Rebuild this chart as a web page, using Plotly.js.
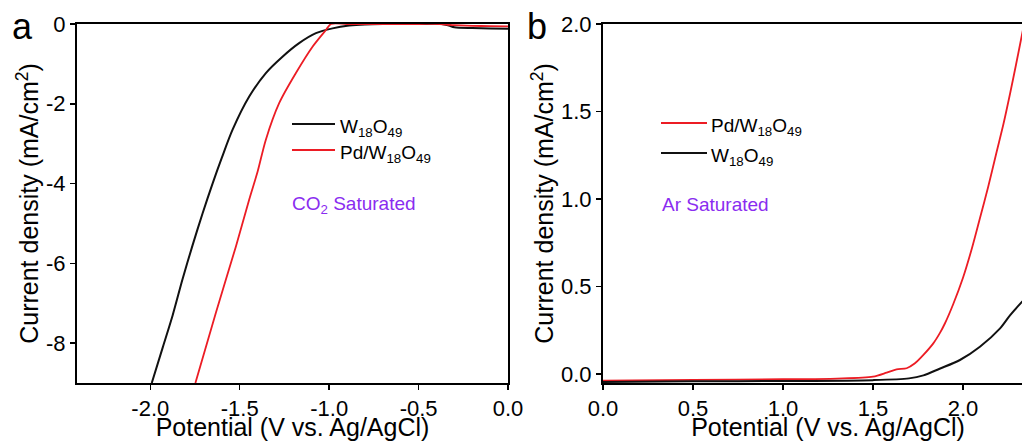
<!DOCTYPE html>
<html>
<head>
<meta charset="utf-8">
<script src="https://cdn.plot.ly/plotly-3.0.1.min.js"></script>
<style>
html,body{margin:0;padding:0;overflow:hidden;background:#fff;width:1022px;height:441px}
</style>
</head>
<body>
<div id="chart" style="width:1060px;height:441px"></div>
<script>
// ---------- Data ----------
// Panel a: CO2 saturated
const co2PotentialW = [-1.992, -1.93, -1.875, -1.82, -1.764, -1.708, -1.652, -1.6, -1.54, -1.447, -1.354, -1.261, -1.168, -1.074, -0.981, -0.888, -0.8, -0.7, -0.5, -0.37, -0.33, -0.30, -0.2, -0.1, 0.0];
const co2CurrentW   = [-9.0, -8.1, -7.3, -6.4, -5.55, -4.75, -4.0, -3.35, -2.65, -1.82, -1.23, -0.82, -0.48, -0.23, -0.11, -0.04, -0.01, 0.0, 0.0, 0.0, -0.04, -0.08, -0.1, -0.11, -0.12];
const co2PotentialPd = [-1.748, -1.633, -1.521, -1.447, -1.40, -1.354, -1.279, -1.186, -1.093, -1.018, -0.99, -0.9, -0.7, -0.5, -0.38, -0.33, -0.30, -0.2, -0.1, 0.0];
const co2CurrentPd   = [-9.0, -7.23, -5.57, -4.4, -3.7, -2.9, -1.98, -1.23, -0.57, -0.15, 0.0, 0.0, 0.0, 0.0, 0.0, -0.02, -0.03, -0.045, -0.055, -0.06];

// Panel b: Ar saturated
const arPotentialPd = [0.0, 0.5, 1.0, 1.3, 1.5, 1.576, 1.631, 1.687, 1.733, 1.78, 1.835, 1.872, 1.9, 1.946, 2.0, 2.05, 2.094, 2.14, 2.187, 2.225, 2.261, 2.295, 2.326, 2.345];
const arCurrentPd   = [-0.038, -0.033, -0.03, -0.026, -0.015, 0.008, 0.027, 0.033, 0.061, 0.109, 0.175, 0.235, 0.29, 0.40, 0.55, 0.72, 0.89, 1.07, 1.27, 1.43, 1.6, 1.77, 1.93, 2.03];
const arPotentialW = [0.0, 0.5, 1.0, 1.5, 1.70, 1.78, 1.87, 1.983, 2.094, 2.206, 2.261, 2.326, 2.345];
const arCurrentW   = [-0.045, -0.042, -0.04, -0.035, -0.025, -0.008, 0.03, 0.08, 0.156, 0.261, 0.335, 0.41, 0.43];

// Tick labels
const aXTickVals = [-2.0, -1.5, -1.0, -0.5, 0.0];
const aXTickText = ["-2.0", "-1.5", "-1.0", "-0.5", "0.0"];
const aYTickVals = [0, -2, -4, -6, -8];
const aYTickText = ["0", "-2", "-4", "-6", "-8"];
const bXTickVals = [0.0, 0.5, 1.0, 1.5, 2.0];
const bXTickText = ["0.0", "0.5", "1.0", "1.5", "2.0"];
const bYTickVals = [0.0, 0.5, 1.0, 1.5, 2.0];
const bYTickText = ["0.0", "0.5", "1.0", "1.5", "2.0"];

const nameW = "W<sub>18</sub>O<sub>49</sub>";
const namePd = "Pd/W<sub>18</sub>O<sub>49</sub>";
const panelLabels = ["a", "b"];
const conditionLabels = ["CO<sub>2</sub> Saturated", "Ar Saturated"];
const xTitle = "Potential (V vs. Ag/AgCl)";
const yTitle = "Current density (mA/cm<sup>2</sup>)";

// ---------- Layout helpers ----------
const W = 1060, H = 441;
const px = x => x / W;
const py = y => 1 - y / H;
const FONT = "Liberation Sans, Arial, Helvetica, sans-serif";
const RED = "#ec1c24", BLACK = "#111111", PURPLE = "#8a2cf0";

const traces = [
  {x: co2PotentialW, y: co2CurrentW, xaxis: "x", yaxis: "y", mode: "lines", name: nameW,
   line: {color: BLACK, width: 2, shape: "spline", smoothing: 0.8}, showlegend: false},
  {x: co2PotentialPd, y: co2CurrentPd, xaxis: "x", yaxis: "y", mode: "lines", name: namePd,
   line: {color: RED, width: 1.8, shape: "spline", smoothing: 0.8}, showlegend: false},
  {x: arPotentialPd, y: arCurrentPd, xaxis: "x2", yaxis: "y2", mode: "lines", name: namePd,
   line: {color: RED, width: 1.8, shape: "spline", smoothing: 0.8}, showlegend: false},
  {x: arPotentialW, y: arCurrentW, xaxis: "x2", yaxis: "y2", mode: "lines", name: nameW,
   line: {color: BLACK, width: 2, shape: "spline", smoothing: 0.8}, showlegend: false}
];

const axisCommon = {
  showgrid: false, zeroline: false, showline: true, linecolor: "#000", linewidth: 2,
  ticks: "outside", ticklen: 5, tickwidth: 1.5, tickcolor: "#000",
  tickfont: {family: FONT, size: 22, color: "#000"}, fixedrange: true
};
const ydom = [py(383), py(24)];

const layout = {
  width: W, height: H,
  margin: {l: 0, r: 0, t: 0, b: 0},
  paper_bgcolor: "#fff", plot_bgcolor: "#fff",
  font: {family: FONT, color: "#000"},
  showlegend: false,
  xaxis: Object.assign({}, axisCommon, {
    domain: [px(77), px(508)], range: [-2.41, 0], anchor: "y", mirror: true,
    tickmode: "array", tickvals: aXTickVals, ticktext: aXTickText,
    title: {text: xTitle, font: {family: FONT, size: 25}, standoff: 0}
  }),
  yaxis: Object.assign({}, axisCommon, {
    domain: ydom, range: [-9, 0], anchor: "x", mirror: true,
    tickmode: "array", tickvals: aYTickVals, ticktext: aYTickText,
    title: {text: yTitle, font: {family: FONT, size: 25}, standoff: 0}
  }),
  xaxis2: Object.assign({}, axisCommon, {
    domain: [px(603), px(1053)], range: [0, 2.5], anchor: "y2", mirror: true,
    tickmode: "array", tickvals: bXTickVals, ticktext: bXTickText,
    title: {text: xTitle, font: {family: FONT, size: 25}, standoff: 0}
  }),
  yaxis2: Object.assign({}, axisCommon, {
    domain: ydom, range: [-0.0514, 2.0], anchor: "x2", mirror: true,
    tickmode: "array", tickvals: bYTickVals, ticktext: bYTickText,
    title: {text: yTitle, font: {family: FONT, size: 25}, standoff: 0}
  }),
  shapes: [
    {type: "line", xref: "paper", yref: "paper", x0: px(292), x1: px(335), y0: py(124), y1: py(124), line: {color: BLACK, width: 2}},
    {type: "line", xref: "paper", yref: "paper", x0: px(292), x1: px(335), y0: py(150), y1: py(150), line: {color: RED, width: 2}},
    {type: "line", xref: "paper", yref: "paper", x0: px(661), x1: px(707), y0: py(123), y1: py(123), line: {color: RED, width: 2}},
    {type: "line", xref: "paper", yref: "paper", x0: px(661), x1: px(707), y0: py(153), y1: py(153), line: {color: BLACK, width: 2}}
  ],
  annotations: [
    {text: nameW, xref: "paper", yref: "paper", x: px(338), y: py(128), xanchor: "left", yanchor: "middle", showarrow: false, font: {family: FONT, size: 19, color: "#000"}},
    {text: namePd, xref: "paper", yref: "paper", x: px(338), y: py(154), xanchor: "left", yanchor: "middle", showarrow: false, font: {family: FONT, size: 19, color: "#000"}},
    {text: conditionLabels[0], xref: "paper", yref: "paper", x: px(290), y: py(205), xanchor: "left", yanchor: "middle", showarrow: false, font: {family: FONT, size: 19, color: PURPLE}},
    {text: namePd, xref: "paper", yref: "paper", x: px(709), y: py(127), xanchor: "left", yanchor: "middle", showarrow: false, font: {family: FONT, size: 19, color: "#000"}},
    {text: nameW, xref: "paper", yref: "paper", x: px(709), y: py(157), xanchor: "left", yanchor: "middle", showarrow: false, font: {family: FONT, size: 19, color: "#000"}},
    {text: conditionLabels[1], xref: "paper", yref: "paper", x: px(660), y: py(204), xanchor: "left", yanchor: "middle", showarrow: false, font: {family: FONT, size: 19, color: PURPLE}},
    {text: panelLabels[0], xref: "paper", yref: "paper", x: px(10), y: py(27), xanchor: "left", yanchor: "middle", showarrow: false, font: {family: FONT, size: 36, color: "#000"}},
    {text: panelLabels[1], xref: "paper", yref: "paper", x: px(525), y: py(26), xanchor: "left", yanchor: "middle", showarrow: false, font: {family: FONT, size: 36, color: "#000"}}
  ]
};

Plotly.newPlot("chart", traces, layout, {staticPlot: true, displayModeBar: false});
</script>
</body>
</html>
